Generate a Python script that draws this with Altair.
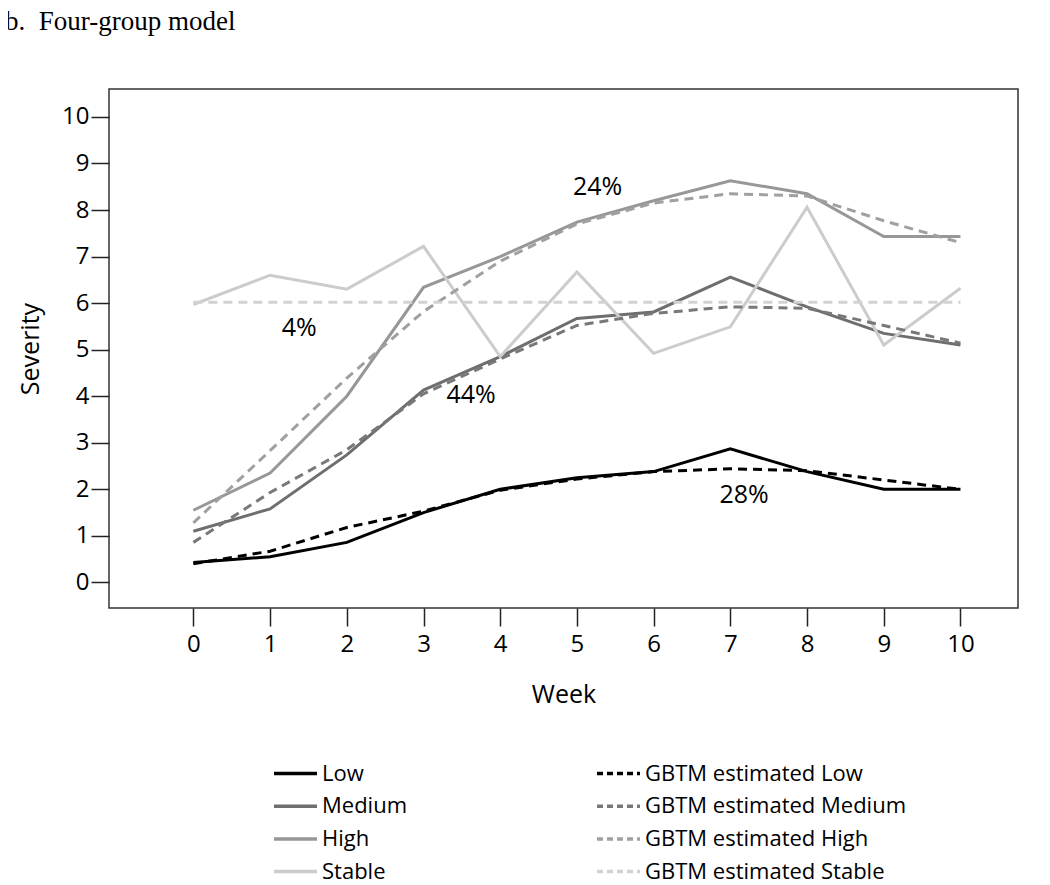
import altair as alt
import pandas as pd

weeks = [0, 1, 2, 3, 4, 5, 6, 7, 8, 9, 10]
low = [0.43, 0.55, 0.86, 1.50, 2.00, 2.25, 2.38, 2.87, 2.38, 2.00, 2.00]
medium = [1.10, 1.58, 2.74, 4.13, 4.85, 5.67, 5.81, 6.56, 5.92, 5.35, 5.10]
high = [1.55, 2.35, 4.00, 6.34, 7.00, 7.74, 8.20, 8.63, 8.35, 7.43, 7.43]
stable = [5.97, 6.60, 6.30, 7.22, 4.85, 6.67, 4.92, 5.49, 8.06, 5.10, 6.32]
est_low = [0.40, 0.67, 1.18, 1.53, 1.98, 2.22, 2.38, 2.44, 2.40, 2.20, 2.00]
est_medium = [0.86, 1.93, 2.85, 4.05, 4.80, 5.52, 5.78, 5.92, 5.89, 5.52, 5.14]
est_high = [1.28, 2.83, 4.39, 5.82, 6.90, 7.70, 8.15, 8.35, 8.30, 7.77, 7.30]
est_stable = [6.02, 6.02, 6.02, 6.02, 6.02, 6.02, 6.02, 6.02, 6.02, 6.02, 6.02]

group_names = ["Low", "Medium", "High", "Stable"]
group_values = [low, medium, high, stable]
group_colors = ["#000000", "#6e6e6e", "#979797", "#cccccc"]

est_names = ["GBTM estimated Low", "GBTM estimated Medium",
             "GBTM estimated High", "GBTM estimated Stable"]
est_values = [est_low, est_medium, est_high, est_stable]
est_colors = ["#000000", "#787878", "#a0a0a0", "#d2d2d2"]

label_text = ["24%", "4%", "44%", "28%"]
label_week = [5.27, 1.38, 3.62, 7.18]
label_severity = [8.50, 5.46, 4.03, 1.88]


def long_table(names, values):
    rows = []
    for name, vals in zip(names, values):
        for w, v in zip(weeks, vals):
            rows.append({"series": name, "week": w, "severity": v})
    return pd.DataFrame(rows)


group_df = long_table(group_names, group_values)
est_df = long_table(est_names, est_values)
labels_df = pd.DataFrame({"text": label_text, "week": label_week, "severity": label_severity})

xscale = alt.Scale(domain=[-1.1, 10.75], nice=False, zero=False)
yscale = alt.Scale(domain=[-0.55, 10.6], nice=False, zero=False)

FONT = "Open Sans"

x_enc = alt.X("week:Q", scale=xscale,
              axis=alt.Axis(values=weeks, title="Week", tickSize=18, labelPadding=6,
                            titlePadding=26, domain=False, grid=False, format="d"))
y_enc = alt.Y("severity:Q", scale=yscale,
              axis=alt.Axis(values=weeks, title="Severity", tickSize=18, labelPadding=2,
                            titlePadding=18, domain=False, grid=False, format="d"))

# custom horizontal stroke symbol: 43px long with a small layout box
legend_common = dict(
    title=None, orient="none", symbolType="M-2,0H2", symbolSize=462,
    symbolStrokeWidth=3.5, symbolFillColor="transparent",
    labelFont=FONT, labelFontSize=22, labelColor="#000000",
    labelOffset=14, labelLimit=400, rowPadding=8.7,
)

solid = alt.Chart(group_df).mark_line(strokeWidth=3).encode(
    x=x_enc, y=y_enc,
    color=alt.Color("series:N", scale=alt.Scale(domain=group_names, range=group_colors),
                    legend=alt.Legend(legendX=174, legendY=672, **legend_common)),
    order=alt.Order("week:Q"),
)

dashed = alt.Chart(est_df).mark_line(strokeWidth=3, strokeDash=[9, 6]).encode(
    x=alt.X("week:Q", scale=xscale),
    y=alt.Y("severity:Q", scale=yscale),
    color=alt.Color("series:N", scale=alt.Scale(domain=est_names, range=est_colors),
                    legend=alt.Legend(legendX=497, legendY=672, symbolDash=[6, 4],
                                      **legend_common)),
    order=alt.Order("week:Q"),
)

texts = alt.Chart(labels_df).mark_text(font=FONT, fontSize=25, color="#000000").encode(
    x=alt.X("week:Q", scale=xscale),
    y=alt.Y("severity:Q", scale=yscale),
    text="text:N",
)

chart = alt.layer(solid, dashed, texts).resolve_scale(
    color="independent"
).resolve_legend(color="independent").properties(
    width=909, height=519,
    autosize=alt.AutoSizeParams(type="none"),
    padding={"left": 101, "top": 81, "right": 24, "bottom": 276},
    title=alt.TitleParams("b.\u00a0\u00a0Four-group model", anchor="start", frame="group",
                          font="Liberation Serif", fontSize=27, fontWeight="normal",
                          color="#000000", dx=-104, dy=-49),
).configure_view(stroke="#333333", strokeWidth=1.5).configure_axis(
    labelFont=FONT, labelFontSize=24, labelColor="#000000",
    titleFont=FONT, titleFontSize=25, titleFontWeight="normal", titleColor="#000000",
    tickColor="#222222", tickWidth=1.5,
)

chart.save("out.html", embed_options={"renderer": "svg", "actions": False})
